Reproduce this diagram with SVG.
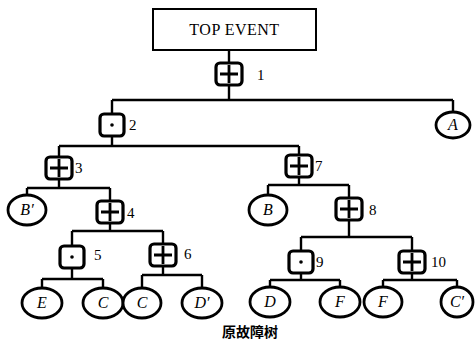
<svg xmlns="http://www.w3.org/2000/svg" width="475" height="347" viewBox="0 0 475 347">
  <style>
    .wire { fill: none; stroke: #000; stroke-width: 2.4; }
    .gbox { fill: #fff; stroke: #000; stroke-width: 3.2; }
    .gsym { stroke: #000; stroke-width: 2.8; fill: none; }
    .ev ellipse { fill: #fff; stroke: #000; stroke-width: 2.8; }
    .ev text { font-family: "Liberation Serif", serif; font-style: italic; font-size: 16px; text-anchor: middle; }
    .num { font-family: "Liberation Serif", serif; font-size: 15px; fill: #000; }
    .top rect { fill: #fff; stroke: #000; stroke-width: 2; }
    .top text { font-family: "Liberation Serif", serif; font-size: 16px; letter-spacing: 0.5px; text-anchor: middle; }
    .cap { font-family: "Noto Sans CJK SC", sans-serif; font-size: 14px; font-weight: bold; text-anchor: middle; }
  </style>
  <defs>
    <g id="or"><rect class="gbox" x="-13" y="-11" width="26" height="22" rx="4"/><path class="gsym" d="M-9 0H9M0 -9V9"/></g>
    <g id="and"><rect class="gbox" x="-12" y="-11" width="24" height="22" rx="4"/><circle r="1.8" fill="#000"/></g>
  </defs>
  <rect width="475" height="347" fill="#fff"/>

  <g id="connectors">
    <path class="wire" d="M229 50V63M229 85V100M112 100H453M112 100V114M453 100V112"/>
    <path class="wire" d="M112 136V146M59 146H299M59 146V157M299 146V155"/>
    <path class="wire" d="M59 179V188M27 188H110M27 188V195M110 188V201"/>
    <path class="wire" d="M110 223V231M72 231H163M72 231V246M163 231V244"/>
    <path class="wire" d="M72 268V279M42 279H103M42 279V288M103 279V288"/>
    <path class="wire" d="M163 266V275M142 275H202M142 275V288M202 275V288"/>
    <path class="wire" d="M299 177V185M268 185H349M268 185V195M349 185V198"/>
    <path class="wire" d="M349 220V237M301 237H412M301 237V251M412 237V251"/>
    <path class="wire" d="M301 273V280M270 280H340M270 280V287M340 280V287"/>
    <path class="wire" d="M412 273V280M383 280H457M383 280V287M457 280V287"/>
  </g>

  <g id="top-event" class="top">
    <rect x="153" y="9" width="163" height="41"/>
    <text x="234.5" y="35">TOP EVENT</text>
  </g>

  <g id="gate1"><use href="#or" x="229" y="74"/><text class="num" x="257" y="80">1</text></g>
  <g id="gate2"><use href="#and" x="112" y="125"/><text class="num" x="129" y="130">2</text></g>
  <g id="gate3"><use href="#or" x="59" y="168"/><text class="num" x="75" y="173">3</text></g>
  <g id="gate4"><use href="#or" x="110" y="212"/><text class="num" x="127" y="218">4</text></g>
  <g id="gate5"><use href="#and" x="72" y="257"/><text class="num" x="94" y="260">5</text></g>
  <g id="gate6"><use href="#or" x="163" y="255"/><text class="num" x="184" y="259">6</text></g>
  <g id="gate7"><use href="#or" x="299" y="166"/><text class="num" x="315" y="171">7</text></g>
  <g id="gate8"><use href="#or" x="349" y="209"/><text class="num" x="369" y="215">8</text></g>
  <g id="gate9"><use href="#and" x="301" y="262"/><text class="num" x="316" y="267">9</text></g>
  <g id="gate10"><use href="#or" x="412" y="262"/><text class="num" x="431" y="267">10</text></g>

  <g id="ev-A" class="ev"><ellipse cx="453" cy="125" rx="17" ry="13"/><text x="453" y="130">A</text></g>
  <g id="ev-B1" class="ev"><ellipse cx="27" cy="210" rx="19" ry="15"/><text x="27" y="215">B′</text></g>
  <g id="ev-B" class="ev"><ellipse cx="268" cy="210" rx="19" ry="15"/><text x="268" y="215">B</text></g>
  <g id="ev-E" class="ev"><ellipse cx="42" cy="303" rx="20" ry="15"/><text x="42" y="308">E</text></g>
  <g id="ev-C1" class="ev"><ellipse cx="103" cy="303" rx="20" ry="15"/><text x="103" y="308">C</text></g>
  <g id="ev-C2" class="ev"><ellipse cx="142" cy="303" rx="19" ry="15"/><text x="142" y="308">C</text></g>
  <g id="ev-D1" class="ev"><ellipse cx="202" cy="303" rx="20" ry="15"/><text x="202" y="308">D′</text></g>
  <g id="ev-D" class="ev"><ellipse cx="270" cy="302" rx="20" ry="15"/><text x="270" y="307">D</text></g>
  <g id="ev-F1" class="ev"><ellipse cx="340" cy="302" rx="20" ry="15"/><text x="340" y="307">F</text></g>
  <g id="ev-F2" class="ev"><ellipse cx="383" cy="302" rx="19" ry="15"/><text x="383" y="307">F</text></g>
  <g id="ev-C3" class="ev"><ellipse cx="457" cy="302" rx="16" ry="15"/><text x="457" y="307">C′</text></g>

  <text class="cap" x="250" y="337">原故障树</text>
</svg>
